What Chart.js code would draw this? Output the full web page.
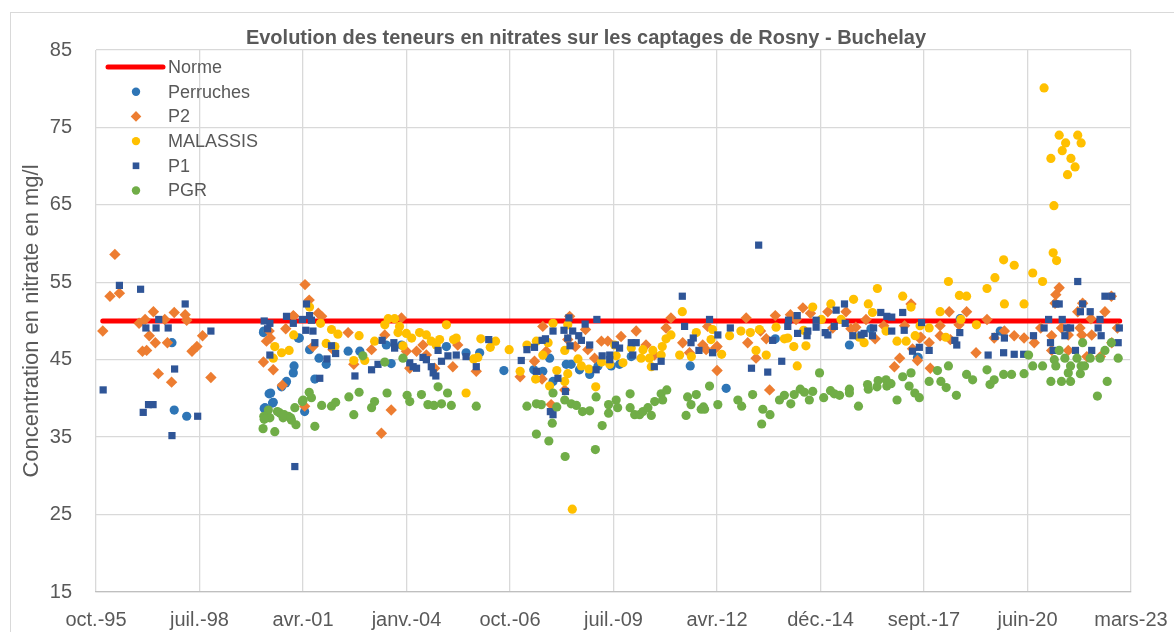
<!DOCTYPE html>
<html lang="fr">
<head>
<meta charset="utf-8">
<title>Evolution des teneurs en nitrates</title>
<script src="https://cdn.jsdelivr.net/npm/chart.js@4.4.1/dist/chart.umd.min.js"></script>
<style>
    html, body { margin: 0; padding: 0; background: #fff; }
    #nitrateChart { display: block; }
</style>
</head>
<body>
<canvas id="nitrateChart" width="1174" height="632"></canvas>
<script>
const chartTitle = 'Evolution des teneurs en nitrates sur les captages de Rosny - Buchelay';
const yAxisTitle = 'Concentration en nitrate en mg/l';
const moisFr = ['janv.', 'févr.', 'mars', 'avr.', 'mai', 'juin', 'juil.', 'août', 'sept.', 'oct.', 'nov.', 'déc.'];

// axe des dates en jours (numéro de série Excel), un repère tous les 1000 jours
const xMin = 35000;
const xMax = 45000;
const xStep = 1000;
const yTicks = [15, 25, 35, 45, 55, 65, 75, 85];

// [année décimale, mg/l]
const normeDates = [1996.0, 2022.9];
const normeValues = [50, 50];

const perruches = [
    [1997.83, 47.2], [1997.89, 38.5], [1998.22, 37.7], [2000.25, 48.5], [2000.26, 48.7], [2000.4, 40.6],
    [2000.49, 39.4], [2000.27, 38.7], [2000.44, 40.7], [2000.51, 39.5], [2000.29, 38.8], [2000.73, 41.5],
    [2000.84, 42.0], [2000.86, 42.2], [2001.04, 43.3], [2001.06, 44.2], [2001.2, 47.8], [2001.17, 47.8],
    [2001.47, 46.3], [2001.72, 45.2], [2001.91, 44.4], [2001.61, 42.5], [2001.34, 38.3], [2002.49, 46.1],
    [2002.8, 46.1], [2003.5, 46.9], [2003.63, 44.5], [2003.9, 46.9], [2005.09, 46.7], [2005.61, 45.9],
    [2005.97, 45.9], [2006.61, 43.6], [2007.4, 43.7], [2007.64, 43.5], [2007.82, 45.2], [2007.91, 42.2],
    [2008.26, 44.4], [2008.39, 44.4], [2008.61, 43.7], [2008.88, 43.1], [2009.1, 44.2], [2009.45, 44.2],
    [2009.67, 44.4], [2009.98, 45.4], [2011.54, 44.2], [2012.49, 41.3], [2013.79, 47.7], [2015.75, 46.9],
    [2016.32, 49.0], [2017.55, 45.3], [2017.57, 45.3], [2018.68, 50.3], [2019.74, 48.7]
];

const p2 = [
    [1996.32, 58.6], [1996.19, 53.2], [1996.44, 53.6], [1996.0, 48.7], [1996.96, 49.7], [1997.12, 50.2],
    [1997.34, 51.2], [1997.23, 48.1], [1997.39, 47.2], [1997.05, 46.1], [1997.16, 46.2], [1997.64, 50.2],
    [1997.89, 51.1], [1997.71, 47.2], [1998.18, 50.8], [1998.22, 50.1], [1997.47, 43.2], [1997.82, 42.1],
    [1998.36, 46.1], [1998.49, 46.7], [1998.64, 48.1], [1998.86, 42.7], [2000.25, 44.7], [2000.33, 47.4],
    [2000.43, 47.8], [2000.51, 43.7], [2000.75, 41.7], [2000.84, 49.0], [2001.04, 50.7], [2001.35, 54.7],
    [2001.46, 52.7], [2001.7, 51.0], [2001.79, 50.6], [2001.05, 50.6], [2000.4, 48.7], [2002.49, 48.5],
    [2003.46, 48.2], [2003.11, 46.3], [2002.64, 44.4], [2003.9, 50.4], [2004.03, 46.1], [2004.3, 46.1],
    [2004.47, 46.9], [2004.56, 45.6], [2004.78, 43.9], [2005.26, 44.1], [2005.88, 43.5], [2004.12, 43.9],
    [2003.63, 38.5], [2003.37, 35.5], [2001.34, 39.0], [2001.56, 46.7], [2002.09, 46.3], [2005.39, 46.9],
    [2007.42, 44.8], [2007.04, 42.8], [2007.62, 42.5], [2007.64, 49.3], [2007.73, 46.1], [2007.86, 39.2],
    [2008.3, 47.6], [2008.35, 50.6], [2008.5, 46.7], [2008.77, 48.9], [2008.83, 46.3], [2009.01, 45.2],
    [2008.22, 41.1], [2009.19, 47.4], [2009.36, 47.4], [2009.71, 48.0], [2010.11, 48.7], [2010.37, 46.9],
    [2010.59, 45.6], [2010.9, 49.1], [2011.03, 50.4], [2011.34, 47.2], [2011.52, 45.9], [2011.87, 46.9],
    [2012.0, 49.3], [2012.21, 46.5], [2011.96, 46.3], [2012.25, 46.7], [2012.25, 43.6], [2013.02, 50.4],
    [2013.06, 47.2], [2013.28, 45.2], [2013.55, 47.7], [2013.64, 41.1], [2013.4, 48.7], [2013.79, 50.7],
    [2014.19, 50.8], [2014.34, 50.2], [2014.52, 51.7], [2014.72, 51.0], [2015.18, 51.2], [2015.31, 49.1],
    [2015.66, 51.2], [2015.79, 49.0], [2015.92, 49.2], [2016.19, 50.2], [2016.43, 47.7], [2016.66, 49.4],
    [2016.94, 44.1], [2017.08, 45.2], [2017.21, 49.4], [2017.38, 52.2], [2017.42, 46.4], [2017.55, 44.9],
    [2017.64, 47.9], [2018.39, 51.2], [2018.85, 51.2], [2019.39, 50.2], [2018.65, 49.5], [2018.15, 49.4],
    [2018.15, 48.1], [2017.86, 47.2], [2017.6, 47.8], [2017.89, 43.9], [2018.42, 47.6], [2019.1, 45.9],
    [2019.85, 48.7], [2020.11, 48.1], [2020.37, 47.8], [2019.58, 47.8], [2020.64, 47.2], [2020.81, 49.1],
    [2021.3, 54.3], [2021.21, 53.4], [2021.19, 52.3], [2021.79, 51.2], [2021.92, 52.3], [2022.14, 50.3],
    [2022.51, 51.2], [2022.68, 53.2], [2022.84, 49.1], [2021.1, 48.1], [2021.36, 49.1], [2021.54, 48.2],
    [2021.85, 49.1], [2021.9, 48.2], [2022.16, 48.2], [2021.1, 46.2], [2021.54, 46.2], [2022.03, 45.4],
    [2022.39, 45.4], [2022.69, 47.2]
];

const malassis = [
    [2000.55, 46.7], [2000.73, 45.9], [2000.93, 46.2], [2000.51, 45.2], [2001.05, 48.2], [2001.47, 51.8],
    [2001.76, 49.7], [2002.05, 48.9], [2002.22, 48.3], [2001.91, 47.1], [2002.14, 46.7], [2002.78, 48.1],
    [2003.19, 47.4], [2002.64, 44.9], [2002.93, 44.9], [2003.46, 49.5], [2003.55, 50.3], [2003.72, 50.3],
    [2003.85, 49.3], [2003.81, 48.5], [2004.03, 48.4], [2004.17, 47.8], [2004.38, 48.5], [2004.56, 48.2],
    [2004.69, 47.4], [2004.91, 47.6], [2005.09, 49.5], [2005.28, 47.6], [2005.35, 47.8], [2003.94, 46.8],
    [2004.82, 46.9], [2006.0, 47.7], [2006.25, 46.6], [2006.39, 47.4], [2006.75, 46.3], [2005.92, 45.3],
    [2005.81, 45.1], [2005.61, 40.7], [2007.22, 46.9], [2007.04, 43.5], [2007.45, 42.5], [2007.78, 47.2],
    [2007.91, 49.7], [2007.82, 41.6], [2008.01, 43.6], [2008.22, 46.2], [2008.3, 49.5], [2008.3, 43.2],
    [2008.22, 42.2], [2008.57, 45.1], [2008.66, 44.2], [2008.86, 43.8], [2009.04, 41.5], [2008.42, 25.7],
    [2009.19, 44.7], [2009.41, 44.4], [2009.58, 45.5], [2009.76, 44.6], [2009.54, 46.9], [2009.98, 46.5],
    [2010.29, 46.3], [2010.24, 45.2], [2010.46, 45.2], [2010.51, 44.1], [2010.55, 46.2], [2010.8, 46.7],
    [2010.9, 47.7], [2011.03, 48.2], [2010.77, 45.6], [2011.26, 45.6], [2011.33, 51.2], [2011.7, 48.5],
    [2011.57, 45.4], [2012.09, 47.6], [2012.13, 48.9], [2007.47, 47.4], [2007.64, 45.6], [2012.37, 45.7],
    [2012.58, 48.1], [2012.88, 48.7], [2013.13, 48.5], [2013.37, 48.9], [2013.28, 46.2], [2013.55, 45.6],
    [2013.81, 49.2], [2014.03, 47.7], [2014.12, 47.8], [2014.28, 46.7], [2014.37, 44.2], [2014.54, 48.8],
    [2014.6, 46.8], [2014.78, 51.8], [2015.01, 50.2], [2015.26, 52.2], [2015.53, 50.2], [2015.86, 52.8],
    [2016.25, 52.2], [2016.36, 51.1], [2016.49, 54.2], [2016.14, 47.2], [2016.01, 47.9], [2016.72, 48.7],
    [2017.01, 47.4], [2017.16, 53.2], [2017.38, 51.8], [2017.25, 47.4], [2017.49, 48.1], [2017.62, 49.4],
    [2018.37, 55.1], [2018.66, 53.3], [2018.85, 53.2], [2019.85, 52.2], [2020.37, 52.2], [2018.15, 51.2],
    [2018.7, 50.2], [2019.11, 49.5], [2017.86, 49.1], [2018.3, 47.9], [2019.39, 54.2], [2019.6, 55.6],
    [2019.83, 57.9], [2020.11, 57.2], [2020.6, 56.2], [2020.86, 55.1], [2020.9, 80.1], [2021.3, 74.0],
    [2021.79, 74.0], [2021.47, 73.0], [2021.88, 73.0], [2021.38, 72.0], [2021.08, 71.0], [2021.61, 71.0],
    [2021.72, 69.9], [2021.52, 68.9], [2021.16, 64.9], [2021.14, 58.8], [2021.23, 57.8]
];

const p1 = [
    [1996.01, 41.1], [1996.44, 54.6], [1997.0, 54.1], [1997.14, 49.1], [1997.41, 49.1], [1997.48, 50.2],
    [1997.73, 49.1], [1998.18, 52.2], [1998.86, 48.7], [1997.9, 43.8], [1997.21, 39.2], [1997.33, 39.2],
    [1997.07, 38.2], [1998.51, 37.7], [1997.83, 35.2], [2000.27, 50.0], [2000.42, 49.7], [2000.86, 50.6],
    [2001.04, 49.7], [2001.28, 50.2], [2000.42, 45.6], [2000.36, 49.0], [2001.39, 52.2], [2001.47, 50.7],
    [2001.52, 50.1], [2001.37, 48.8], [2001.56, 48.7], [2001.61, 47.2], [2002.05, 46.8], [2002.16, 45.8],
    [2001.93, 45.1], [2001.74, 42.6], [2002.67, 42.9], [2003.28, 44.4], [2003.11, 43.7], [2003.39, 47.5],
    [2003.7, 47.2], [2003.72, 46.5], [2004.12, 44.6], [2004.21, 44.1], [2004.3, 43.9], [2004.47, 45.3],
    [2004.56, 45.0], [2004.69, 44.1], [2004.87, 46.2], [2004.96, 44.8], [2005.13, 45.5], [2004.74, 43.3],
    [2004.81, 42.9], [2005.35, 45.6], [2005.61, 45.4], [2005.88, 44.1], [2006.21, 47.6], [2001.08, 31.2],
    [2007.07, 44.9], [2007.22, 46.3], [2007.42, 46.6], [2007.47, 43.5], [2007.62, 47.5], [2007.71, 47.7],
    [2007.84, 38.3], [2007.91, 37.9], [2007.91, 48.7], [2008.04, 42.6], [2008.24, 40.9], [2008.2, 48.8],
    [2008.33, 50.4], [2008.3, 47.8], [2008.36, 46.8], [2008.43, 48.7], [2008.59, 48.1], [2008.66, 47.5],
    [2008.76, 49.6], [2008.88, 46.9], [2009.07, 50.2], [2009.05, 43.7], [2009.21, 45.5], [2009.41, 45.6],
    [2009.41, 45.0], [2009.56, 46.9], [2009.67, 46.5], [2009.98, 47.2], [2010.11, 47.2], [2010.02, 45.6],
    [2010.59, 44.1], [2010.77, 44.8], [2011.33, 53.2], [2011.39, 49.3], [2011.56, 47.2], [2011.62, 47.8],
    [2011.77, 46.2], [2012.05, 50.2], [2012.13, 45.9], [2012.27, 48.2], [2012.6, 49.1], [2013.16, 43.9],
    [2013.35, 59.8], [2013.59, 43.4], [2013.72, 47.5], [2013.96, 44.8], [2014.12, 49.3], [2014.14, 50.1],
    [2014.37, 50.7], [2014.38, 48.4], [2014.63, 48.1], [2014.65, 48.7], [2014.87, 50.1], [2014.87, 49.2],
    [2015.11, 48.5], [2015.18, 48.2], [2015.35, 49.3], [2015.4, 51.4], [2015.62, 52.2], [2015.64, 49.7],
    [2015.84, 48.1], [2016.06, 48.2], [2016.14, 48.4], [2016.36, 48.1], [2016.39, 49.1], [2016.58, 51.1],
    [2016.74, 50.6], [2016.87, 50.5], [2016.87, 48.7], [2017.16, 51.1], [2017.2, 48.8], [2017.42, 46.1],
    [2017.6, 46.6], [2017.66, 49.8], [2018.67, 48.5], [2018.54, 47.5], [2018.59, 46.9], [2017.86, 46.2],
    [2019.42, 45.6], [2019.6, 48.0], [2019.85, 47.8], [2019.83, 45.9], [2020.11, 45.7], [2020.36, 45.7],
    [2020.62, 48.1], [2020.9, 49.1], [2021.02, 50.2], [2021.07, 47.2], [2021.14, 46.2], [2021.21, 52.2],
    [2021.3, 52.2], [2021.38, 50.2], [2021.5, 49.1], [2021.6, 49.1], [2021.45, 48.1], [2021.79, 55.1],
    [2021.92, 52.2], [2021.86, 51.2], [2022.12, 51.2], [2021.73, 46.2], [2022.16, 46.2], [2022.33, 49.1],
    [2022.38, 50.2], [2022.41, 48.1], [2022.51, 53.2], [2022.69, 53.2], [2022.89, 49.1], [2022.86, 47.2]
];

const pgr = [
    [2000.24, 36.1], [2000.55, 35.7], [2000.38, 38.5], [2000.69, 38.1], [2000.91, 37.7], [2001.08, 38.8],
    [2001.11, 36.6], [2001.3, 39.8], [2001.46, 40.8], [2001.52, 40.1], [2001.61, 36.4], [2001.79, 39.1],
    [2002.05, 39.0], [2002.16, 39.5], [2002.51, 40.2], [2002.64, 37.9], [2002.78, 40.8], [2003.11, 38.8],
    [2003.19, 39.6], [2002.88, 45.5], [2003.46, 44.7], [2003.52, 40.7], [2003.94, 45.2], [2004.05, 40.4],
    [2004.12, 39.6], [2004.43, 40.5], [2004.6, 39.2], [2004.76, 39.1], [2004.87, 41.5], [2004.96, 39.3],
    [2005.12, 40.7], [2005.22, 39.1], [2005.88, 39.0], [2000.26, 37.7], [2000.42, 37.5], [2000.77, 37.5],
    [2000.99, 37.2], [2000.62, 38.3], [2000.8, 37.9], [2000.97, 37.5], [2001.28, 39.6], [2000.27, 37.3],
    [2007.22, 39.0], [2007.47, 39.3], [2007.6, 39.2], [2007.47, 35.4], [2007.8, 34.5], [2007.89, 36.8],
    [2007.91, 40.7], [2008.01, 38.9], [2008.23, 32.5], [2008.22, 39.8], [2008.39, 39.3], [2008.53, 39.1],
    [2008.69, 38.3], [2008.88, 38.4], [2009.03, 33.4], [2009.05, 40.2], [2009.21, 36.5], [2009.38, 39.2],
    [2009.38, 38.1], [2009.58, 39.8], [2009.62, 38.8], [2009.95, 40.6], [2009.95, 38.8], [2010.07, 37.9],
    [2010.2, 37.9], [2010.29, 38.3], [2010.42, 38.8], [2010.51, 37.8], [2010.6, 39.6], [2010.77, 40.6],
    [2010.81, 39.8], [2010.92, 41.1], [2011.47, 40.2], [2011.7, 40.5], [2011.56, 39.2], [2011.43, 37.8],
    [2011.83, 38.6], [2011.89, 38.9], [2012.05, 41.6], [2012.27, 39.2], [2011.92, 38.6], [2012.8, 39.8],
    [2012.9, 39.0], [2013.19, 40.5], [2013.43, 36.7], [2013.46, 38.6], [2013.65, 37.9], [2013.9, 39.8],
    [2014.03, 40.4], [2014.2, 39.3], [2014.29, 40.5], [2014.45, 41.2], [2014.56, 40.8], [2014.69, 39.8],
    [2014.78, 40.9], [2014.96, 43.3], [2015.07, 40.1], [2015.25, 41.0], [2015.35, 40.6], [2015.49, 40.4],
    [2015.75, 41.2], [2015.75, 40.7], [2015.99, 39.0], [2016.23, 41.8], [2016.25, 41.2], [2016.48, 41.5],
    [2016.51, 42.3], [2016.72, 42.4], [2016.74, 41.6], [2016.85, 41.9], [2017.01, 39.8], [2017.16, 42.8],
    [2017.38, 43.3], [2017.33, 41.6], [2017.48, 40.7], [2017.6, 40.1], [2017.86, 42.2], [2018.08, 43.6],
    [2018.17, 42.2], [2018.31, 41.4], [2018.37, 44.2], [2018.58, 40.4], [2018.85, 43.1], [2019.01, 42.4],
    [2019.39, 43.7], [2019.47, 41.8], [2019.58, 42.4], [2019.83, 43.1], [2020.04, 43.1], [2020.37, 43.2],
    [2020.49, 45.6], [2020.6, 44.2], [2020.86, 44.2], [2021.08, 42.2], [2021.17, 45.0], [2021.21, 44.2],
    [2021.3, 46.2], [2021.36, 42.2], [2021.45, 45.2], [2021.54, 43.3], [2021.6, 44.2], [2021.6, 42.2],
    [2021.77, 45.2], [2021.88, 44.2], [2021.92, 47.2], [2021.97, 44.2], [2021.86, 43.2], [2022.12, 45.2],
    [2022.38, 45.2], [2022.31, 40.3], [2022.51, 46.2], [2022.57, 42.2], [2022.68, 47.2], [2022.86, 45.2]
];

const toSerial = year => 25569 + (year - 1970) * 365.25;
const toPoints = list => list.map(([year, value]) => ({ x: toSerial(year), y: value }));

function serialLabel(value) {
    const d = new Date((value - 25569) * 86400000);
    return `${moisFr[d.getUTCMonth()]}-${String(d.getUTCFullYear()).slice(2)}`;
}

const series = [
    { label: 'Norme', data: normeDates.map((d, i) => ({ x: toSerial(d), y: normeValues[i] })), color: '#FF0000', style: 'line', radius: 0, order: 6 },
    { label: 'Perruches', data: toPoints(perruches), color: '#2E75B6', style: 'circle', radius: 4.6, order: 5 },
    { label: 'P2', data: toPoints(p2), color: '#ED7D31', style: 'rectRot', radius: 5.7, order: 4 },
    { label: 'MALASSIS', data: toPoints(malassis), color: '#FFC000', style: 'circle', radius: 4.6, order: 3 },
    { label: 'P1', data: toPoints(p1), color: '#2F5597', style: 'rect', radius: 5.1, order: 2 },
    { label: 'PGR', data: toPoints(pgr), color: '#70AD47', style: 'circle', radius: 4.6, order: 1 }
];

const decor = {
    id: 'decor',
    beforeDraw(chart) {
        const ctx = chart.ctx;
        ctx.save();
        ctx.fillStyle = '#ffffff';
        ctx.fillRect(0, 0, chart.width, chart.height);
        ctx.strokeStyle = '#D9D9D9';
        ctx.lineWidth = 1;
        ctx.strokeRect(10.5, 12.5, chart.width + 20, chart.height + 20);
        ctx.restore();
    },
    afterDraw(chart) {
        const ctx = chart.ctx;
        const area = chart.chartArea;
        ctx.save();
        ctx.fillStyle = '#595959';
        ctx.textBaseline = 'middle';
        ctx.textAlign = 'center';
        ctx.font = 'bold 20px "Liberation Sans", Arial, sans-serif';
        ctx.fillText(chartTitle, 586, 38);

        ctx.font = '18px "Liberation Sans", Arial, sans-serif';
        ctx.textAlign = 'left';
        series.forEach((s, i) => {
            const y = area.top + 17 + i * 24.7;
            if (s.style === 'line') {
                ctx.strokeStyle = s.color;
                ctx.lineWidth = 5;
                ctx.lineCap = 'round';
                ctx.beginPath();
                ctx.moveTo(area.left + 12, y);
                ctx.lineTo(area.left + 67, y);
                ctx.stroke();
            } else {
                ctx.fillStyle = s.color;
                Chart.helpers.drawPoint(ctx, { pointStyle: s.style, radius: s.radius - 0.4, rotation: 0, borderWidth: 0 }, area.left + 40, y);
            }
            ctx.fillStyle = '#595959';
            ctx.fillText(s.label, area.left + 72, y + 1);
        });
        ctx.restore();
    }
};

Chart.defaults.font.family = '"Liberation Sans", Arial, sans-serif';
Chart.defaults.color = '#595959';

new Chart(document.getElementById('nitrateChart'), {
    type: 'scatter',
    data: {
        datasets: series.map(s => ({
            label: s.label,
            data: s.data,
            order: s.order,
            showLine: s.style === 'line',
            borderColor: s.color,
            backgroundColor: s.color,
            borderWidth: s.style === 'line' ? 5 : 0,
            borderCapStyle: 'round',
            pointStyle: s.style === 'line' ? false : s.style,
            pointRadius: s.radius,
            pointBorderWidth: 0
        }))
    },
    options: {
        responsive: false,
        animation: false,
        events: [],
        layout: { padding: { left: 10, right: 43, top: 50, bottom: 0 } },
        plugins: {
            legend: { display: false },
            title: { display: false },
            tooltip: { enabled: false }
        },
        scales: {
            x: {
                type: 'linear',
                min: xMin,
                max: xMax,
                afterFit: scale => {
                    scale.height = 40;
                    scale.paddingLeft = 0;
                    scale.paddingRight = 0;
                },
                afterBuildTicks: scale => {
                    scale.ticks = [];
                    for (let v = xMin; v <= xMax; v += xStep) scale.ticks.push({ value: v });
                },
                grid: { color: '#D9D9D9', lineWidth: 1.3, drawTicks: false },
                border: { color: '#BFBFBF', width: 1.3 },
                ticks: {
                    autoSkip: false,
                    maxRotation: 0,
                    padding: 16,
                    font: { size: 20 },
                    color: '#595959',
                    callback: value => serialLabel(value)
                }
            },
            y: {
                min: 15,
                max: 85,
                afterFit: scale => { scale.width = 86; },
                afterBuildTicks: scale => { scale.ticks = yTicks.map(v => ({ value: v })); },
                grid: { color: '#D9D9D9', lineWidth: 1.3, drawTicks: false },
                border: { display: false },
                ticks: { padding: 24, font: { size: 20 }, color: '#595959' },
                title: {
                    display: true,
                    text: yAxisTitle,
                    font: { size: 22 },
                    color: '#595959',
                    padding: { top: 9, bottom: 0 }
                }
            }
        }
    },
    plugins: [decor]
});
</script>
</body>
</html>
